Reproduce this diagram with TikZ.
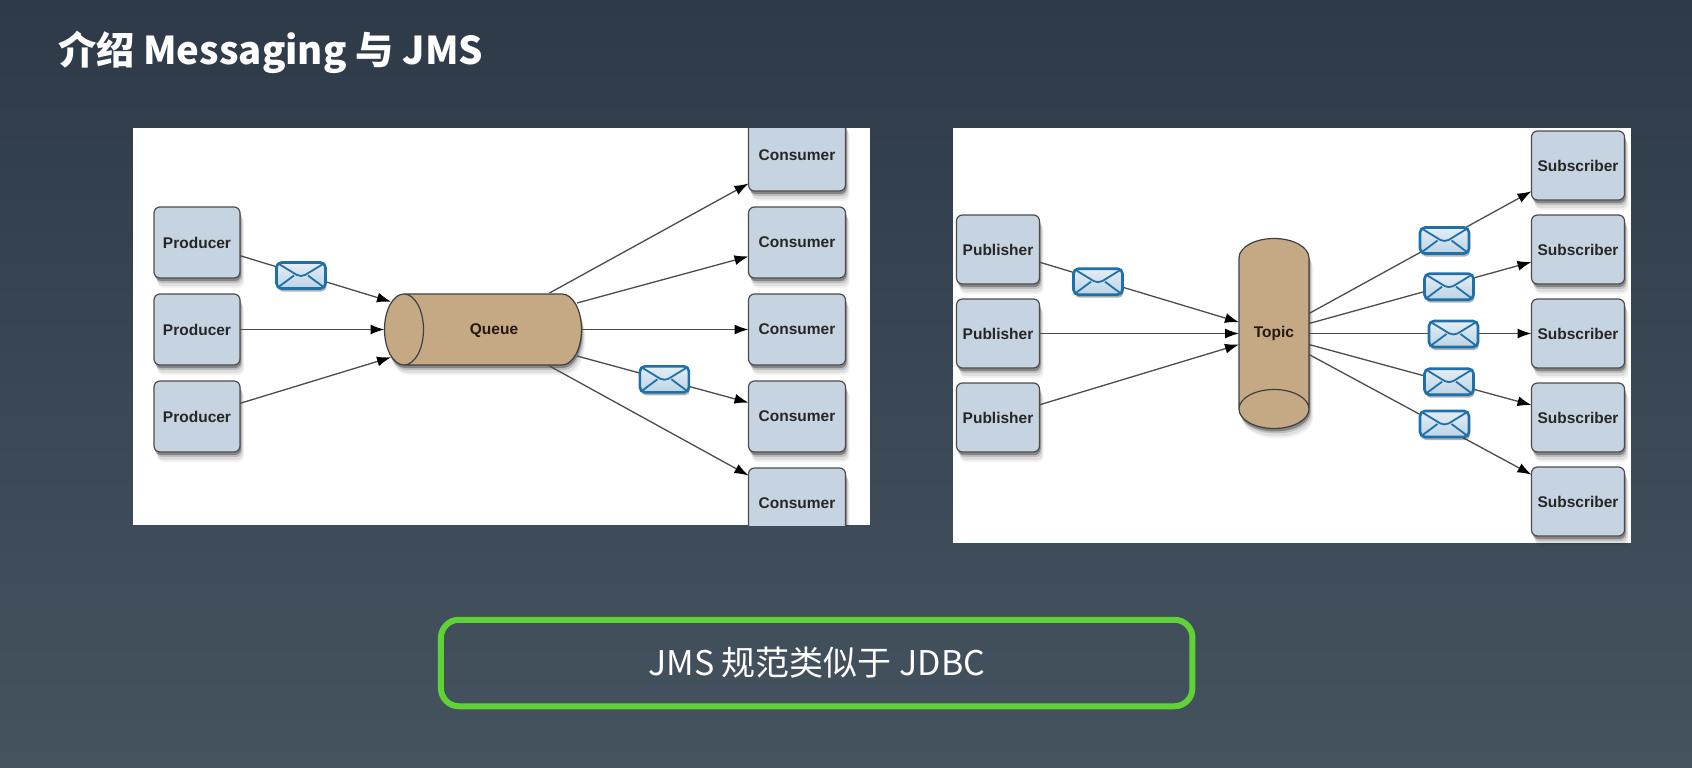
\documentclass[tikz,border=0pt]{standalone}
\usepackage{fontspec}
\setmainfont{Liberation Sans}
\newfontfamily\cjk{Noto Sans CJK SC}
\usetikzlibrary{positioning,calc,arrows.meta,shapes.geometric,shadows}
\definecolor{bgtop}{HTML}{2E3A48}
\definecolor{bgbot}{HTML}{45535F}
\definecolor{boxblue}{HTML}{C5D4E0}
\definecolor{tubetan}{HTML}{C4A984}
\definecolor{envblue}{HTML}{1F6FA8}
\definecolor{btngreen}{HTML}{5FD335}
\newcommand{\tubespace}{\rule{0pt}{30pt}\hspace*{30pt}}
\tikzset{
  softshadow/.style={
    general shadow={shadow xshift=4pt,shadow yshift=-10pt,opacity=.05,fill=black},
    general shadow={shadow xshift=3pt,shadow yshift=-8pt,opacity=.08,fill=black},
    general shadow={shadow xshift=2pt,shadow yshift=-5pt,opacity=.14,fill=black},
    general shadow={shadow xshift=1pt,shadow yshift=-3pt,opacity=.3,fill=black}},
  boxnode/.style={draw=black!70,line width=1.2pt,fill=boxblue,rounded corners=6pt,outer sep=0pt,
    minimum height=71pt,font=\fontsize{15.5}{18}\selectfont\bfseries,text=black!85,softshadow},
  prodbox/.style={boxnode,minimum width=86pt},
  consbox/.style={boxnode,minimum width=97pt},
  pubbox/.style={boxnode,minimum width=83pt,minimum height=69pt},
  subbox/.style={boxnode,minimum width=93pt,minimum height=69pt},
  tube/.style={cylinder,draw=black!75,line width=1.2pt,fill=tubetan,outer sep=0pt,anchor=shape center,
    inner sep=0pt,shape aspect=1.3,softshadow},
  tubetext/.style={font=\fontsize{15.5}{18}\selectfont\bfseries,text=black!80!brown},
  envmsg/.style={draw=envblue,line width=2.6pt,rounded corners=5pt,inner sep=0pt,outer sep=0pt,
    minimum width=49pt,minimum height=26pt,top color=envblue!12,bottom color=envblue!30,
    general shadow={shadow xshift=1pt,shadow yshift=-3pt,opacity=.3,fill=black},
    path picture={
      \draw[envblue,line width=1.8pt]
        (path picture bounding box.north west) -- ($(path picture bounding box.center)+(0,-2pt)$)
        -- (path picture bounding box.north east);
      \draw[envblue,line width=1.8pt]
        (path picture bounding box.south west) -- ($(path picture bounding box.center)+(-7pt,0)$);
      \draw[envblue,line width=1.8pt]
        (path picture bounding box.south east) -- ($(path picture bounding box.center)+(7pt,0)$);
    }},
  link/.style={draw=black!70,line width=1.3pt,-{Latex[length=14pt,width=10pt,color=black]}},
}
\begin{document}
\begin{tikzpicture}[x=1pt,y=-1pt,node distance=16pt]
\useasboundingbox (0,0) rectangle (1692,768);
\shade[top color=bgtop,bottom color=bgbot] (0,0) rectangle (1692,768);

\node[anchor=base west,text=white,font=\fontsize{38.3}{44}\cjk\bfseries] (title) at (54.5,65) {介绍 Messaging 与 JMS};

% queue panel
\fill[white] (133,128) rectangle (870,525);
\begin{scope}
  \clip (133,128) rectangle (870,525);
  \node[prodbox] (p2) at (197,329.5) {Producer};
  \node[prodbox,above=of p2] (p1) {Producer};
  \node[prodbox,below=of p2] (p3) {Producer};
  \node[consbox] (c3) at (797,329.5) {Consumer};
  \node[consbox,above=of c3] (c2) {Consumer};
  \node[consbox,above=of c2] (c1) {Consumer};
  \node[consbox,below=of c3] (c4) {Consumer};
  \node[consbox,below=of c4] (c5) {Consumer};
  \node[tube,shape border rotate=180,minimum height=197pt,minimum width=71pt] (queue) at (483,329.5) {\tubespace};
  \node[tubetext] (qtext) at ([xshift=11pt,yshift=-1pt]queue.shape center) {Queue};
  \draw[link] (p1.-17.7) -- ([xshift=-92pt,yshift=27.8pt]queue.shape center);
  \draw[link] (p2) -- ([xshift=-98.5pt]queue.shape center);
  \draw[link] (p3.17.7) -- ([xshift=-92pt,yshift=-27.8pt]queue.shape center);
  \draw[link] ([xshift=66.5pt,yshift=36.5pt]queue.shape center) -- (c1.-150);
  \draw[link] ([xshift=94pt,yshift=26.5pt]queue.shape center) -- (c2.-164.8);
  \draw[link] ([xshift=98.5pt]queue.shape center) -- (c3);
  \draw[link] ([xshift=94pt,yshift=-26.5pt]queue.shape center) -- (c4.164.8);
  \draw[link] ([xshift=66.5pt,yshift=-36.5pt]queue.shape center) -- (c5.150);
  \node[envmsg] (m1) at (301,275.5) {};
  \node[envmsg] (m2) at (664.4,379.3) {};
\end{scope}

% topic panel
\fill[white] (953,128) rectangle (1631,542.7);
\node[pubbox] (pb2) at (998,333.5) {Publisher};
\node[pubbox,above=15pt of pb2] (pb1) {Publisher};
\node[pubbox,below=15pt of pb2] (pb3) {Publisher};
\node[subbox] (s3) at (1578,333.5) {Subscriber};
\node[subbox,above=15pt of s3] (s2) {Subscriber};
\node[subbox,above=15pt of s2] (s1) {Subscriber};
\node[subbox,below=15pt of s3] (s4) {Subscriber};
\node[subbox,below=15pt of s4] (s5) {Subscriber};
\node[tube,shape border rotate=270,minimum height=190pt,minimum width=70pt] (topic) at (1274,333.5) {\tubespace};
\node[tubetext] (ttext) at (topic.shape center) {Topic};
\draw[link] (pb1.-17.8) -- ([xshift=-35pt,yshift=11.3pt]topic.shape center);
\draw[link] (pb2) -- ([xshift=-35pt]topic.shape center);
\draw[link] (pb3.17.8) -- ([xshift=-35pt,yshift=-11pt]topic.shape center);
\draw[link] ([xshift=35pt,yshift=20pt]topic.shape center) -- (s1.-151.5);
\draw[link] ([xshift=35pt,yshift=10pt]topic.shape center) -- (s2.-165);
\draw[link] ([xshift=35pt]topic.shape center) -- (s3);
\draw[link] ([xshift=35pt,yshift=-11pt]topic.shape center) -- (s4.165);
\draw[link] ([xshift=35pt,yshift=-21pt]topic.shape center) -- (s5.150.6);
\node[envmsg] (m3) at (1098,281.7) {};
\node[envmsg] (m4) at (1444.5,240.5) {};
\node[envmsg] (m5) at (1449,286.7) {};
\node[envmsg] (m6) at (1453.5,334) {};
\node[envmsg] (m7) at (1449,381.7) {};
\node[envmsg] (m8) at (1444.5,424) {};

\node[draw=btngreen,line width=6pt,rounded corners=18pt,minimum width=751.5pt,minimum height=86.5pt,
  text=white,font=\fontsize{34}{40}\cjk] (jdbc) at (816.7,663) {JMS 规范类似于 JDBC};
\end{tikzpicture}
\end{document}
